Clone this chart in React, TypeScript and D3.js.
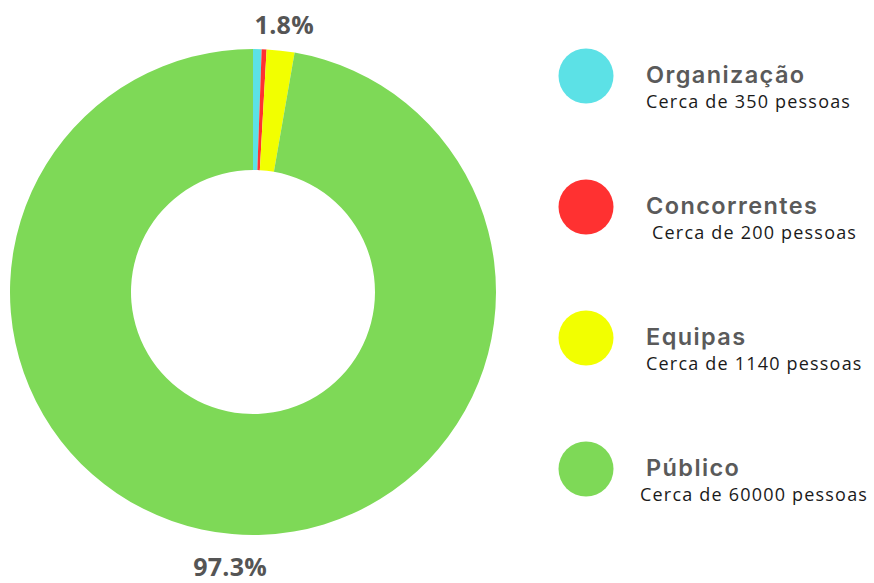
import React from "react";
import * as d3 from "d3";

const categories = ["Organização", "Concorrentes", "Equipas", "Público"];
const values = [350, 200, 1140, 60000];
const subtitles = [
  "Cerca de 350 pessoas",
  "Cerca de 200 pessoas",
  "Cerca de 1140 pessoas",
  "Cerca de 60000 pessoas",
];
const colors = ["#5CE1E6", "#FF3131", "#F2FF00", "#7ED957"];
const shownLabels = ["", "", "1.8%", "97.3%"];

const W = 874;
const H = 583;
const cx = 253;
const cy = 292;
const outerR = 243;
const innerR = 122;

export default function App() {
  const pie = d3
    .pie<number>()
    .sort(null)
    .value((d) => d);
  const arcs = pie(values);
  const arc = d3.arc<d3.PieArcDatum<number>>().innerRadius(innerR).outerRadius(outerR);
  const labelArc = d3
    .arc<d3.PieArcDatum<number>>()
    .innerRadius(266)
    .outerRadius(266);

  const legendY = d3.scalePoint<string>().domain(categories).range([76, 469]);
  const subDx = [0, 6, 0, -6];

  return (
    <svg
      width={W}
      height={H}
      style={{ position: "absolute", left: 0, top: 0, background: "#fff" }}
    >
      <g transform={`translate(${cx},${cy})`}>
        {arcs.map((a, i) => (
          <path key={i} d={arc(a) || ""} fill={colors[i]} />
        ))}
        {arcs.map((a, i) => {
          if (!shownLabels[i]) return null;
          const [x, y] = labelArc.centroid(a);
          const isBottom = y > 0;
          return (
            <text
              key={"l" + i}
              x={isBottom ? x : x + 1}
              y={isBottom ? y + 19 : y + 6}
              textAnchor="middle"
              fontFamily="'Open Sans', sans-serif"
              fontWeight={700}
              fontSize={25}
              letterSpacing={0.3}
              fill="#555555"
            >
              {shownLabels[i]}
            </text>
          );
        })}
      </g>
      {categories.map((c, i) => {
        const y = legendY(c) as number;
        return (
          <g key={c}>
            <circle cx={586} cy={y} r={27.5} fill={colors[i]} />
            <text
              x={646}
              y={y + 7}
              fontFamily="Inter, sans-serif"
              fontWeight={600}
              fontSize={23.5}
              letterSpacing={1.4}
              fill="#5a5a5a"
            >
              {c}
            </text>
            <text
              x={646 + subDx[i]}
              y={y + 32}
              fontFamily="'Open Sans', sans-serif"
              fontWeight={400}
              fontSize={18}
              letterSpacing={1.2}
              fill="#1a1a1a"
            >
              {subtitles[i]}
            </text>
          </g>
        );
      })}
    </svg>
  );
}
